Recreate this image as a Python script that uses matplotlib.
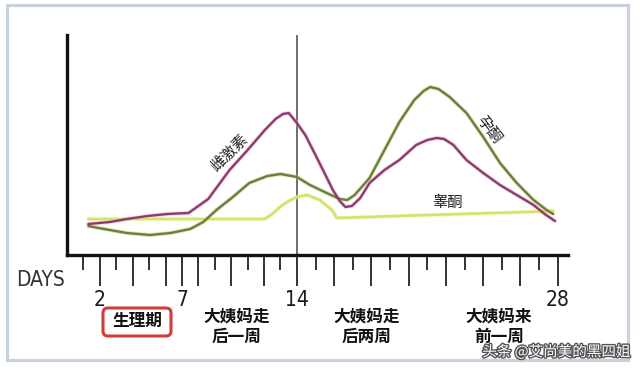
import numpy as np
import matplotlib
matplotlib.use('Agg')
import matplotlib.pyplot as plt
from matplotlib import patches, ticker
import matplotlib.patheffects as pe

plt.rcParams['font.family'] = ['Noto Sans CJK SC', 'DejaVu Sans']

# hormone curves (day of cycle, relative level)
estro_day = [1.3, 2.6, 3.65, 4.9, 6.1, 7.4, 8.6, 9.9, 11.0, 12.05, 12.7, 13.15, 13.5,
             14.0, 14.45, 14.86, 15.4, 15.93, 16.3, 16.6, 16.95, 17.4, 17.9, 18.7,
             19.5, 20.4, 21.0, 21.5, 21.9, 22.4, 23.1, 24.0, 24.9, 25.8, 26.7, 27.3, 27.85]
estro_lvl = [31, 33, 36, 39, 41, 42, 56, 85, 105, 125, 136, 141, 142,
             132, 120, 105, 85, 65, 54, 48, 49, 57, 72, 85,
             95, 110, 115, 117, 116, 110, 95, 82, 70, 60, 50, 41, 34]

prog_day = [1.3, 1.6, 2.6, 3.65, 5.05, 6.3, 7.5, 8.3, 9.1, 10.1, 11.1, 12.2, 13.0,
            14.0, 14.7, 15.6, 16.3, 16.7, 17.1, 17.9, 18.7, 19.5, 20.3, 20.8, 21.15,
            21.6, 22.2, 23.1, 24.0, 24.9, 25.8, 26.7, 27.4, 27.75]
prog_lvl = [29, 28, 25, 22, 20, 22, 26, 33, 45, 58, 72, 79, 81,
            78, 70, 62, 56, 55, 60, 77, 105, 133, 155, 164, 168,
            166, 158, 142, 118, 92, 72, 55, 45, 41]

testo_day = [1.3, 12.05, 12.5, 12.96, 13.5, 14.0, 14.54, 15.23, 15.88, 16.15, 21.0, 26.3, 27.75]
testo_lvl = [36, 36, 41, 48, 54, 58, 60, 55, 45, 37, 40, 43, 44]

label_days = [2, 7, 14, 21, 28]
long_days = [2, 4, 6, 7, 8, 10, 12, 14, 16, 18, 20, 22, 24, 26, 28]
short_days = [1, 3, 5, 9, 11, 13, 15, 17, 19, 21, 23, 25, 27]

phases = ['大姨妈走\n后一周', '大姨妈走\n后两周', '大姨妈来\n前一周']

W, H = 640, 373
fig = plt.figure(figsize=(6.4, 3.73), dpi=100)
fig.patch.set_facecolor('white')

# outer light frame
fig.add_artist(patches.Rectangle((0.065, (H - 360) / 100), 6.21, (360 - 5) / 100,
                                 transform=fig.dpi_scale_trans, fill=False,
                                 ec='#c7d2de', lw=2.3))

ax = fig.add_axes([67 / W, (H - 255) / H, (568 - 67) / W, 220 / H])

# the hand drawn axis is stretched after day 14
bp_day = [-10, 0, 14, 40]
bp_px = [-164.3, 0, 230, 230 + 26 * 18.64]
ax.set_xscale('function', functions=(lambda d: np.interp(d, bp_day, bp_px),
                                     lambda p: np.interp(p, bp_px, bp_day)))
ax.set_xlim(0, 28.55)
ax.set_ylim(0, 220)

for s in ['top', 'right']:
    ax.spines[s].set_visible(False)
for s in ['left', 'bottom']:
    ax.spines[s].set_linewidth(2.4)
    ax.spines[s].set_color('#111111')
ax.set_yticks([])

ax.xaxis.set_major_locator(ticker.FixedLocator(long_days))
ax.xaxis.set_minor_locator(ticker.FixedLocator(short_days))
ax.xaxis.set_major_formatter(ticker.FuncFormatter(
    lambda v, p: str(int(round(v))) if int(round(v)) in label_days else ''))
ax.tick_params(axis='x', which='major', length=22, width=1.4, color='#333333',
               pad=3, labelsize=15, labelcolor='#1a1a1a')
ax.tick_params(axis='x', which='minor', length=11, width=1.4, color='#333333')
for t in ax.get_xticklabels():
    t.set_family('DejaVu Sans')
    t.set_stretch('condensed')

ax.axvline(14, color='#555555', lw=1.2, zorder=1)

def curve(d, l, core, halo, lw):
    ax.plot(d, l, color=halo, lw=lw + 1.3, alpha=0.45, solid_capstyle='round', zorder=2)
    ax.plot(d, l, color=core, lw=lw, solid_capstyle='round', solid_joinstyle='round', zorder=3)

curve(testo_day, testo_lvl, '#d3e36a', '#eef6b0', 1.9)
curve(prog_day, prog_lvl, '#6e7c3f', '#b8d274', 1.7)
curve(estro_day, estro_lvl, '#8a3c6c', '#f2a9cf', 1.7)

ax.text(9.9, 102, '雌激素', rotation=45, ha='center', va='center', fontsize=11, color='#222222')
ax.text(24.3, 125, '孕酮', rotation=-52, ha='center', va='center', fontsize=11, color='#222222')
ax.text(22.1, 53, '睾酮', ha='center', va='center', fontsize=11, color='#222222')

def px(x, y):
    return x / W, 1 - y / H

fig.text(*px(40, 280), 'DAYS', ha='center', va='center', fontsize=15, color='#333333',
         family='DejaVu Sans', stretch='condensed')

fig.text(*px(137, 321), '生理期', ha='center', va='center', fontsize=12, weight='bold', color='#111111')
fig.add_artist(patches.FancyBboxPatch((1.03, (H - 336) / 100), 0.68, 0.28,
                                      boxstyle='round,pad=0,rounding_size=0.05',
                                      transform=fig.dpi_scale_trans, fill=False,
                                      ec='#d63a3a', lw=2.2))

for xc, txt in zip([237, 367, 499], phases):
    fig.text(*px(xc, 327), txt, ha='center', va='center', fontsize=12, weight='bold',
             color='#111111', linespacing=1.2)

fig.text(*px(631, 352), '头条 @艾尚美的黑四姐', ha='right', va='center', fontsize=10.5,
         color='white', path_effects=[pe.withStroke(linewidth=2, foreground='#555555')])

plt.savefig('out.png', dpi=100)
